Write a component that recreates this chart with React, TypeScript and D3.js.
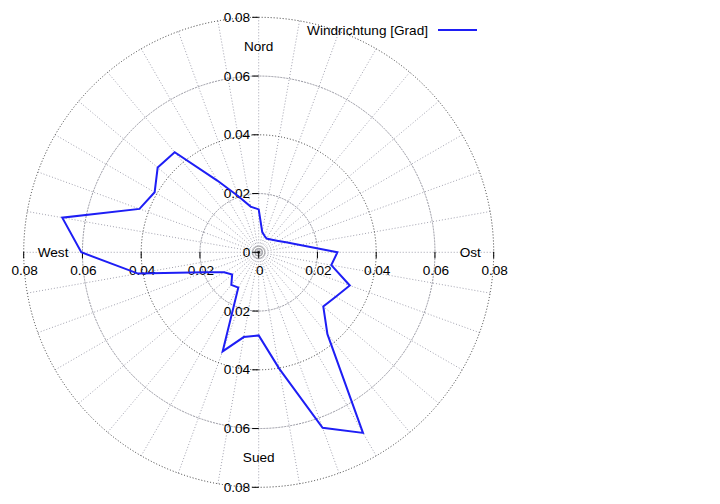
import React from "react";
import * as d3 from "d3";

const directions = [0, 10, 20, 30, 40, 50, 60, 70, 80, 90, 100, 110, 120, 130, 140, 150, 160, 170,
  180, 190, 200, 210, 220, 230, 240, 250, 260, 270, 280, 290, 300, 310, 320, 330, 340, 350];
const frequency = [0.0146, 0.0070, 0.0059, 0.0054, 0.0058, 0.0065, 0.0077, 0.0099, 0.0143,
  0.0268, 0.0251, 0.0330, 0.0303, 0.0287, 0.0364, 0.0710, 0.0636, 0.0402,
  0.0283, 0.0293, 0.0359, 0.0139, 0.0145, 0.0118, 0.0136, 0.0199, 0.0417,
  0.0604, 0.0679, 0.0432, 0.0409, 0.0449, 0.0445, 0.0282, 0.0203, 0.0158];
const ringTicks = [0.02, 0.04, 0.06, 0.08];
const axisTicks = [-0.08, -0.06, -0.04, -0.02, 0, 0.02, 0.04, 0.06, 0.08];
const spokeAngles = d3.range(0, 360, 10);
const compassNames = ["Nord", "Ost", "Sued", "West"];
const compassAngles = [0, 90, 180, 270];
const seriesName = "Windrichtung [Grad]";

const W = 720, H = 504;
const cx = 258.7, cy = 252.3;
const FONT = "'Liberation Sans', Arial, Helvetica, sans-serif";
const BLUE = "#1e1ef5";

export default function App() {
  const r = d3.scaleLinear().domain([0, 0.08]).range([0, 235]);
  const rad = (deg: number) => (deg * Math.PI) / 180;
  const pts = directions.map((d, i) => ({ a: rad(d), v: frequency[i] }));
  const line = d3.lineRadial<{ a: number; v: number }>()
    .angle(p => p.a)
    .radius(p => r(p.v))
    .curve(d3.curveLinearClosed);
  const fmt = (v: number) => (Math.abs(v) < 1e-9 ? "0" : d3.format(".2f")(Math.abs(v)));
  const pos = (t: number) => Math.sign(t) * r(Math.abs(t));
  const R = r(0.08);
  return (
    <svg width={W} height={H} style={{ position: "absolute", left: 0, top: 0, background: "#fff" }}
      fontFamily={FONT} fontSize={13.6}>
      {spokeAngles.map(a => (
        <line key={"s" + a} x1={cx} y1={cy}
          x2={cx + R * Math.sin(rad(a))} y2={cy - R * Math.cos(rad(a))}
          stroke="#8a8a9a" strokeWidth={0.8} strokeDasharray="1,2" />
      ))}
      {ringTicks.map((t, i) => (
        <circle key={"r" + t} cx={cx} cy={cy} r={r(t)} fill="none"
          stroke={i % 2 === 1 ? "#222" : "#8a8a95"} strokeWidth={0.9}
          strokeDasharray={i % 2 === 1 ? "1,2" : "2,1"} />
      ))}
      {[2, 4, 6].map(q => (
        <circle key={"c" + q} cx={cx} cy={cy} r={q} fill="none" stroke="#999" strokeWidth={0.7} />
      ))}
      <circle cx={cx} cy={cy} r={1.2} fill="#222" />
      {axisTicks.map(t => (
        <g key={"y" + t}>
          <line x1={cx - 6.5} x2={cx} y1={cy - pos(t)} y2={cy - pos(t)} stroke="#000" strokeWidth={1} />
          <text x={cx - 8.5} y={cy - pos(t)} textAnchor="end" dominantBaseline="central" fill="#000">{fmt(t)}</text>
        </g>
      ))}
      {axisTicks.map(t => (
        <g key={"x" + t}>
          <line x1={cx + pos(t)} x2={cx + pos(t)} y1={cy - 0.5} y2={cy + 6} stroke="#000" strokeWidth={1} />
          <text x={cx + pos(t) + 1} y={cy + 18.5} textAnchor="middle" dominantBaseline="central" fill="#000">{fmt(t)}</text>
        </g>
      ))}
      {compassNames.map((n, i) => {
        const a = rad(compassAngles[i]);
        const rr = r(0.07);
        const dx = n === "Ost" ? 6 : 0;
        return (
          <text key={n} x={cx + rr * Math.sin(a) + dx} y={cy - rr * Math.cos(a)} textAnchor="middle"
            dominantBaseline="central" fill="#000">{n}</text>
        );
      })}
      <path d={line(pts) || ""} transform={`translate(${cx},${cy})`} fill="none" stroke={BLUE}
        strokeWidth={2} strokeLinejoin="miter" />
      <text x={428} y={30} textAnchor="end" dominantBaseline="central" fill="#000">{seriesName}</text>
      <line x1={438} x2={477} y1={30} y2={30} stroke={BLUE} strokeWidth={2} />
    </svg>
  );
}
